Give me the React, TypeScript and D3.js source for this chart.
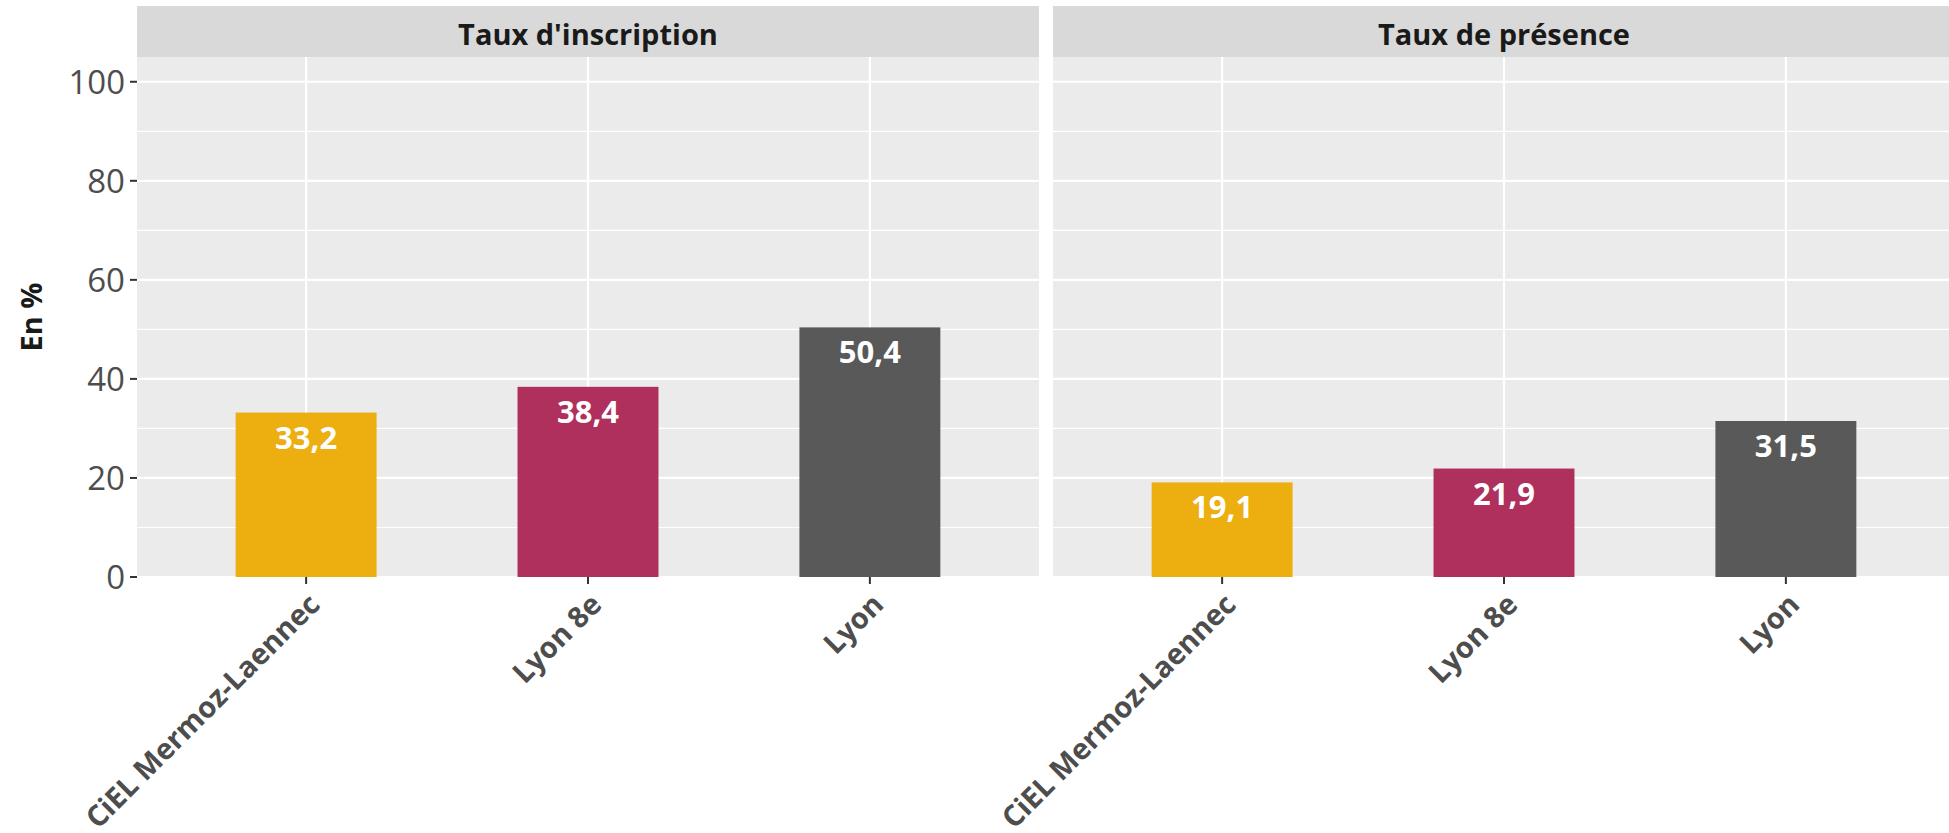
import React from "react";
import * as d3 from "d3";

const categories = ["CiEL Mermoz-Laennec", "Lyon 8e", "Lyon"];
const facetTitles = ["Taux d'inscription", "Taux de présence"];
const inscriptionValues = [33.2, 38.4, 50.4];
const presenceValues = [19.1, 21.9, 31.5];
const barColors = ["#EDAE10", "#AF2F5D", "#595959"];
const yTicks = [0, 20, 40, 60, 80, 100];
const yMinor = [10, 30, 50, 70, 90];
const yTitle = "En %";

const W = 1949;
const H = 833;
const FONT = "'Open Sans', 'Noto Sans', sans-serif";

const fr = d3.formatLocale({ decimal: ",", thousands: " ", grouping: [3], currency: ["", "€"] });
const fmt = fr.format(".1f");

const panelTop = 57;
const panelBottom = 577;
const stripTop = 6;
const panelWidth = 902;
const panelLefts = [137, 1053];

export default function App() {
  const y = d3.scaleLinear().domain([0, 105]).range([panelBottom, panelTop]);
  const series = [inscriptionValues, presenceValues];

  return (
    <svg
      width={W}
      height={H}
      style={{ position: "absolute", left: 0, top: 0, display: "block", background: "#fff" }}
      fontFamily={FONT}
    >
      <rect x={0} y={0} width={W} height={H} fill="#fff" />
      {facetTitles.map((title, fi) => {
        const x0 = panelLefts[fi];
        const unit = panelWidth / 3.2;
        // ggplot discrete: positions at 1..n, expansion 0.6 each side
        const xc = d3
          .scalePoint<string>()
          .domain(categories)
          .range([x0 + unit * 0.6, x0 + panelWidth - unit * 0.6]);
        const barW = unit * 0.5;
        const vals = series[fi];
        return (
          <g key={title}>
            <rect x={x0} y={stripTop} width={panelWidth} height={panelTop - stripTop} fill="#D9D9D9" />
            <text
              x={x0 + panelWidth / 2}
              y={stripTop + 39}
              textAnchor="middle"
              fontSize={29}
              fontWeight={700}
              fill="#1A1A1A"
            >
              {title}
            </text>
            <rect x={x0} y={panelTop} width={panelWidth} height={panelBottom - panelTop} fill="#EBEBEB" />
            {yMinor.map((t) => (
              <line key={"mn" + t} x1={x0} x2={x0 + panelWidth} y1={y(t)} y2={y(t)} stroke="#fff" strokeWidth={1.2} />
            ))}
            {yTicks.map((t) => (
              <line key={"mj" + t} x1={x0} x2={x0 + panelWidth} y1={y(t)} y2={y(t)} stroke="#fff" strokeWidth={2.2} />
            ))}
            {categories.map((c) => (
              <line key={"v" + c} x1={xc(c)} x2={xc(c)} y1={panelTop} y2={panelBottom} stroke="#fff" strokeWidth={2.2} />
            ))}
            {categories.map((c, i) => (
              <rect
                key={"b" + c}
                x={(xc(c) as number) - barW / 2}
                y={y(vals[i])}
                width={barW}
                height={panelBottom - y(vals[i])}
                fill={barColors[i]}
              />
            ))}
            {categories.map((c, i) => (
              <text
                key={"l" + c}
                x={xc(c)}
                y={y(vals[i]) + 36}
                textAnchor="middle"
                fontSize={31}
                fontWeight={700}
                fill="#fff"
              >
                {fmt(vals[i])}
              </text>
            ))}
            {categories.map((c) => (
              <line
                key={"t" + c}
                x1={xc(c)}
                x2={xc(c)}
                y1={panelBottom}
                y2={panelBottom + 7}
                stroke="#333"
                strokeWidth={2}
              />
            ))}
            {categories.map((c) => (
              <text
                key={"xl" + c}
                transform={`translate(${(xc(c) as number) + 0},${panelBottom + 14}) rotate(-45)`}
                textAnchor="end"
                dy="0.75em"
                fontSize={29}
                fontWeight={700}
                fill="#4D4D4D"
              >
                {c}
              </text>
            ))}
          </g>
        );
      })}
      {/* y axis on left panel */}
      {yTicks.map((t) => (
        <g key={"yt" + t}>
          <line x1={130} x2={137} y1={y(t)} y2={y(t)} stroke="#333" strokeWidth={2} />
          <text x={125} y={y(t)} dy="0.36em" textAnchor="end" fontSize={33} fill="#4D4D4D">
            {t}
          </text>
        </g>
      ))}
      <text
        transform={`translate(42,${(panelTop + panelBottom) / 2}) rotate(-90)`}
        textAnchor="middle"
        fontSize={29}
        fontWeight={700}
        fill="#1A1A1A"
      >
        {yTitle}
      </text>
    </svg>
  );
}
